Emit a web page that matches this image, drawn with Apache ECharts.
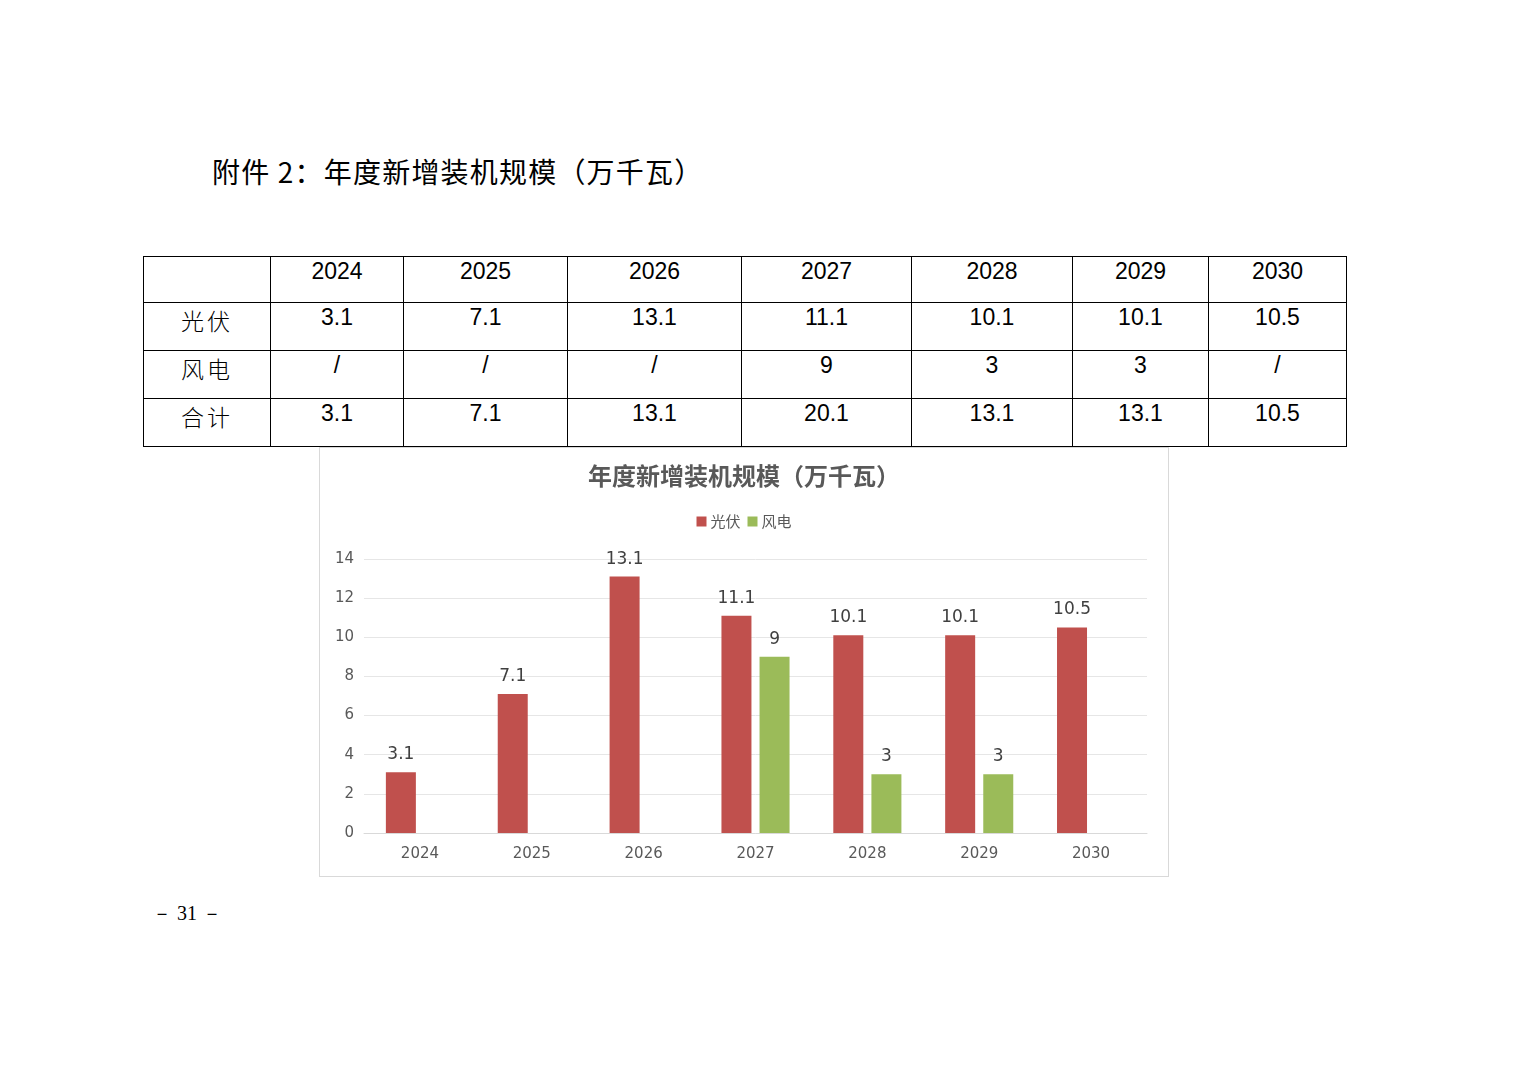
<!DOCTYPE html>
<html>
<head>
<meta charset="utf-8">
<script src="https://cdn.jsdelivr.net/npm/echarts@6/dist/echarts.min.js"></script>
<style>
  body { margin: 0; background: #fff; width: 1520px; height: 1074px; position: relative; overflow: hidden; }
  #heading { position: absolute; left: 212px; top: 151px; font: 28px "Noto Sans CJK SC", "Liberation Sans", sans-serif; letter-spacing: 1.2px; color: #000; white-space: nowrap; }
  #tbl { position: absolute; left: 143px; top: 256px; border-collapse: collapse; font: 23px "Liberation Sans", Arial, sans-serif; color: #000; }
  #tbl td { border: 1px solid #000; text-align: center; vertical-align: top; padding: 1px 0 0 0; height: 48px; box-sizing: border-box; }
  #tbl td.cn { font: 300 23px "Noto Sans CJK SC", sans-serif; letter-spacing: 3px; padding-top: 0; }
  #pieChart { position: absolute; left: 319px; top: 447px; width: 850px; height: 430px; border: 1px solid #d9d9d9; box-sizing: border-box; background: #fff; }
  #pageNo { position: absolute; left: 152px; top: 900px; font: 20px "Liberation Serif", serif; color: #000; white-space: pre; }
</style>
</head>
<body>
<div id="heading">附件 2：年度新增装机规模（万千瓦）</div>
<table id="tbl"></table>
<div id="pieChart"></div>
<div id="pageNo">－ 31 －</div>
<script>
var years = ["2024", "2025", "2026", "2027", "2028", "2029", "2030"];
var pvData = [3.1, 7.1, 13.1, 11.1, 10.1, 10.1, 10.5];
var windData = [null, null, null, 9, 3, 3, null];
var totalData = [3.1, 7.1, 13.1, 20.1, 13.1, 13.1, 10.5];
var colWidths = [127, 133, 164, 174, 170, 161, 136, 138];

// table above the chart
var tbl = document.getElementById("tbl");
var rows = [["", years], ["光伏", pvData], ["风电", windData], ["合计", totalData]];
rows.forEach(function (r, ri) {
  var tr = document.createElement("tr");
  var th = document.createElement("td");
  th.className = "cn";
  th.textContent = r[0];
  th.style.width = colWidths[0] + "px";
  if (ri == 0) th.style.height = "46px";
  tr.appendChild(th);
  r[1].forEach(function (v, i) {
    var td = document.createElement("td");
    td.textContent = v == null ? "/" : v;
    td.style.width = colWidths[i + 1] + "px";
    if (ri == 0) td.style.height = "46px";
    tr.appendChild(td);
  });
  tbl.appendChild(tr);
});

var chartDom = document.getElementById("pieChart");
var myChart = echarts.init(chartDom);
var option;

option = {
  color: ["#C0504D", "#9BBB59"],
  animation: false,
  title: {
    text: "年度新增装机规模（万千瓦）",
    left: "center",
    top: 11,
    textStyle: {
      fontFamily: "Noto Sans CJK SC",
      fontSize: 24,
      fontWeight: "bold",
      color: "#595959",
    },
  },
  legend: {
    top: 61,
    left: "center",
    icon: "rect",
    itemWidth: 10,
    itemHeight: 10,
    itemGap: 7,
    textStyle: {
      fontFamily: "Noto Sans CJK SC",
      fontSize: 15,
      color: "#595959",
      padding: [0, 0, 0, -1],
    },
  },
  grid: {
    left: 44,
    right: 21,
    top: 111,
    bottom: 43,
    containLabel: false,
  },
  xAxis: {
    type: "category",
    data: years,
    axisTick: { show: false },
    axisLine: { lineStyle: { color: "#d9d9d9" } },
    axisLabel: {
      fontFamily: "DejaVu Sans",
      fontSize: 15,
      color: "#595959",
      margin: 14,
    },
  },
  yAxis: {
    type: "value",
    min: 0,
    max: 14,
    interval: 2,
    axisLabel: {
      fontFamily: "DejaVu Sans",
      fontSize: 15,
      color: "#595959",
      margin: 10,
    },
    splitLine: { lineStyle: { color: "#e6e6e6" } },
  },
  series: [
    {
      name: "光伏",
      type: "bar",
      data: pvData,
      barWidth: 30,
      barGap: "27%",
      label: {
        show: true,
        position: "top",
        distance: 9,
        fontFamily: "DejaVu Sans",
        fontSize: 17,
        color: "#404040",
      },
    },
    {
      name: "风电",
      type: "bar",
      data: windData,
      barWidth: 30,
      label: {
        show: true,
        position: "top",
        distance: 9,
        fontFamily: "DejaVu Sans",
        fontSize: 17,
        color: "#404040",
      },
    },
  ],
};

option && myChart.setOption(option);
</script>
</body>
</html>
